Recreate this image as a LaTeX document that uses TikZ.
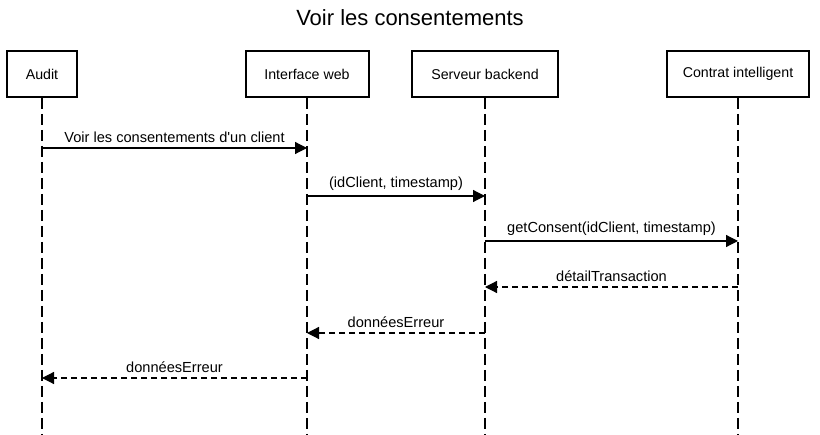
\documentclass[tikz,border=0pt]{standalone}
\usepackage{fontspec}
\setmainfont{Liberation Sans}
\usetikzlibrary{arrows.meta}
\begin{document}
\begin{tikzpicture}[x=1pt,y=-1pt,
  actor/.style={draw,line width=2pt,minimum height=46pt,font=\fontsize{14.2}{16}\selectfont,inner sep=0pt},
  life/.style={line width=1.2pt,dash pattern=on 11pt off 5pt},
  msg/.style={line width=1.2pt,-{Triangle[length=12pt,width=12pt]}},
  ret/.style={msg,dash pattern=on 6pt off 4pt},
  lbl/.style={font=\fontsize{14.6}{16}\selectfont,above=3.5pt,inner sep=1pt}]
\useasboundingbox (0,0) rectangle (820,435);
\node[font=\fontsize{22}{26}\selectfont] (title) at (410,18) {Voir les consentements};
\node[actor,minimum width=70pt] (audit) at (42,74) {Audit};
\node[actor,minimum width=123pt] (web) at (307,74) {Interface web};
\node[actor,minimum width=146pt] (srv) at (485,74) {Serveur backend};
\node[actor,minimum width=142pt] (sc) at (738,74) {Contrat intelligent};
\foreach \n in {audit,web,srv,sc} {
  \coordinate (\n-end) at (\n.south |- 0,435);
  \draw[life] (\n.south) -- (\n-end);
}
\foreach \n/\y/\k in {audit/148/1,web/148/1, web/196/2,srv/196/2, srv/241/3,sc/241/3,
  sc/287/4,srv/287/4, srv/333/5,web/333/5, web/378/6,audit/378/6} {
  \coordinate (\n-m\k) at (\n.south |- 0,\y);
}
\draw[msg] (audit-m1) -- node[lbl] {Voir les consentements d\textquotesingle un client} (web-m1);
\draw[msg] (web-m2) -- node[lbl] {(idClient, timestamp)} (srv-m2);
\draw[msg] (srv-m3) -- node[lbl] {getConsent(idClient, timestamp)} (sc-m3);
\draw[ret] (sc-m4) -- node[lbl] {détailTransaction} (srv-m4);
\draw[ret] (srv-m5) -- node[lbl] {donnéesErreur} (web-m5);
\draw[ret] (web-m6) -- node[lbl] {donnéesErreur} (audit-m6);
\end{tikzpicture}
\end{document}
